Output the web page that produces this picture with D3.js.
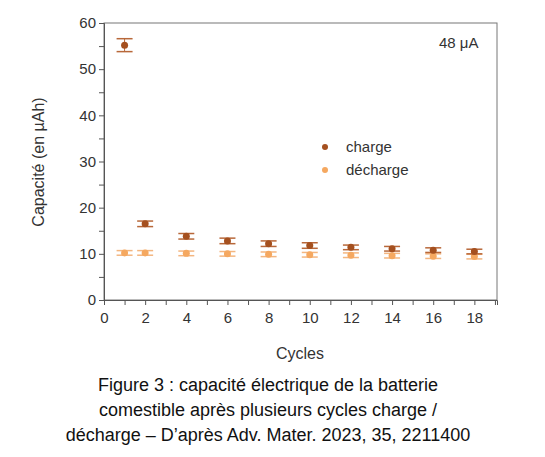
<!DOCTYPE html>
<html><head><meta charset="utf-8">
<script src="https://d3js.org/d3.v7.min.js"></script>
<style>body{margin:0;background:#fff}text{font-family:Arial,"Liberation Sans",sans-serif}</style>
</head><body><svg id="c" width="545" height="457"></svg>
<script>
var cycles = [1, 2, 4, 6, 8, 10, 12, 14, 16, 18];
var charge = [55.2, 16.5, 13.8, 12.8, 12.2, 11.8, 11.4, 11.1, 10.8, 10.5];
var chargeErr = [1.4, 0.6, 0.6, 0.6, 0.6, 0.6, 0.5, 0.5, 0.5, 0.5];
var discharge = [10.2, 10.2, 10.1, 10.0, 9.9, 9.8, 9.7, 9.6, 9.5, 9.4];
var dischargeErr = [0.5, 0.5, 0.5, 0.5, 0.5, 0.5, 0.5, 0.5, 0.5, 0.5];
var xTicks = [0, 2, 4, 6, 8, 10, 12, 14, 16, 18];
var yTicks = [0, 10, 20, 30, 40, 50, 60];

var svg = d3.select("#c");
var x = d3.scaleLinear().domain([0, 19.1]).range([104, 497]);
var y = d3.scaleLinear().domain([0, 60]).range([300, 23]);

// frame
svg.append("rect").attr("x", 104).attr("y", 23).attr("width", 393).attr("height", 277)
  .attr("fill", "none").attr("stroke", "#777").attr("stroke-width", 1);

var gx = svg.append("g").attr("transform", "translate(0,300)")
  .call(d3.axisBottom(x).tickValues(d3.range(0, 20, 1)).tickSize(5)
    .tickFormat(function (d) { return d % 2 ? "" : d; }));
var gy = svg.append("g").attr("transform", "translate(104,0)")
  .call(d3.axisLeft(y).tickValues(d3.range(0, 65, 5)).tickSize(5)
    .tickFormat(function (d) { return d % 10 ? "" : d; }));
[gx, gy].forEach(function (g) {
  g.select(".domain").attr("stroke", "#555");
  g.selectAll("line").attr("stroke", "#555");
  g.selectAll("text").attr("font-size", 15).attr("fill", "#333");
});
gx.selectAll("text").attr("dy", "1em");

function series(vals, errs, col, errCol) {
  var g = svg.append("g");
  cycles.forEach(function (c, i) {
    [vals[i] - errs[i], vals[i] + errs[i]].forEach(function (v) {
      g.append("line").attr("x1", x(c) - 8).attr("x2", x(c) + 8)
        .attr("y1", y(v)).attr("y2", y(v)).attr("stroke", errCol).attr("stroke-width", 1.5);
    });
    g.append("line").attr("x1", x(c)).attr("x2", x(c))
      .attr("y1", y(vals[i] - errs[i])).attr("y2", y(vals[i] + errs[i])).attr("stroke", errCol);
    g.append("circle").attr("cx", x(c)).attr("cy", y(vals[i])).attr("r", 3.5).attr("fill", col);
  });
}
series(discharge, dischargeErr, "#f5a860", "#f3b680");
series(charge, chargeErr, "#a5501f", "#b8683a");

// legend
svg.append("circle").attr("cx", 325).attr("cy", 147).attr("r", 3).attr("fill", "#a5501f");
svg.append("text").attr("x", 346).attr("y", 152).attr("font-size", 15).attr("fill", "#333").text("charge");
svg.append("circle").attr("cx", 325).attr("cy", 170).attr("r", 3).attr("fill", "#f5a860");
svg.append("text").attr("x", 346).attr("y", 175).attr("font-size", 15).attr("fill", "#333").text("décharge");
svg.append("text").attr("x", 439).attr("y", 48).attr("font-size", 15).attr("fill", "#333").text("48 μA");

svg.append("text").attr("x", 300).attr("y", 359).attr("text-anchor", "middle")
  .attr("font-size", 16).attr("fill", "#333").text("Cycles");
svg.append("text").attr("transform", "translate(44,162) rotate(-90)").attr("text-anchor", "middle")
  .attr("font-size", 16).attr("fill", "#333").text("Capacité (en µAh)");

var cap = ["Figure 3 : capacité électrique de la batterie",
  "comestible après plusieurs cycles charge /",
  "décharge – D’après Adv. Mater. 2023, 35, 2211400"];
cap.forEach(function (t, i) {
  svg.append("text").attr("x", 268).attr("y", 391 + i * 25).attr("text-anchor", "middle")
    .attr("font-size", 18).attr("fill", "#111").text(t);
});
</script></body></html>
